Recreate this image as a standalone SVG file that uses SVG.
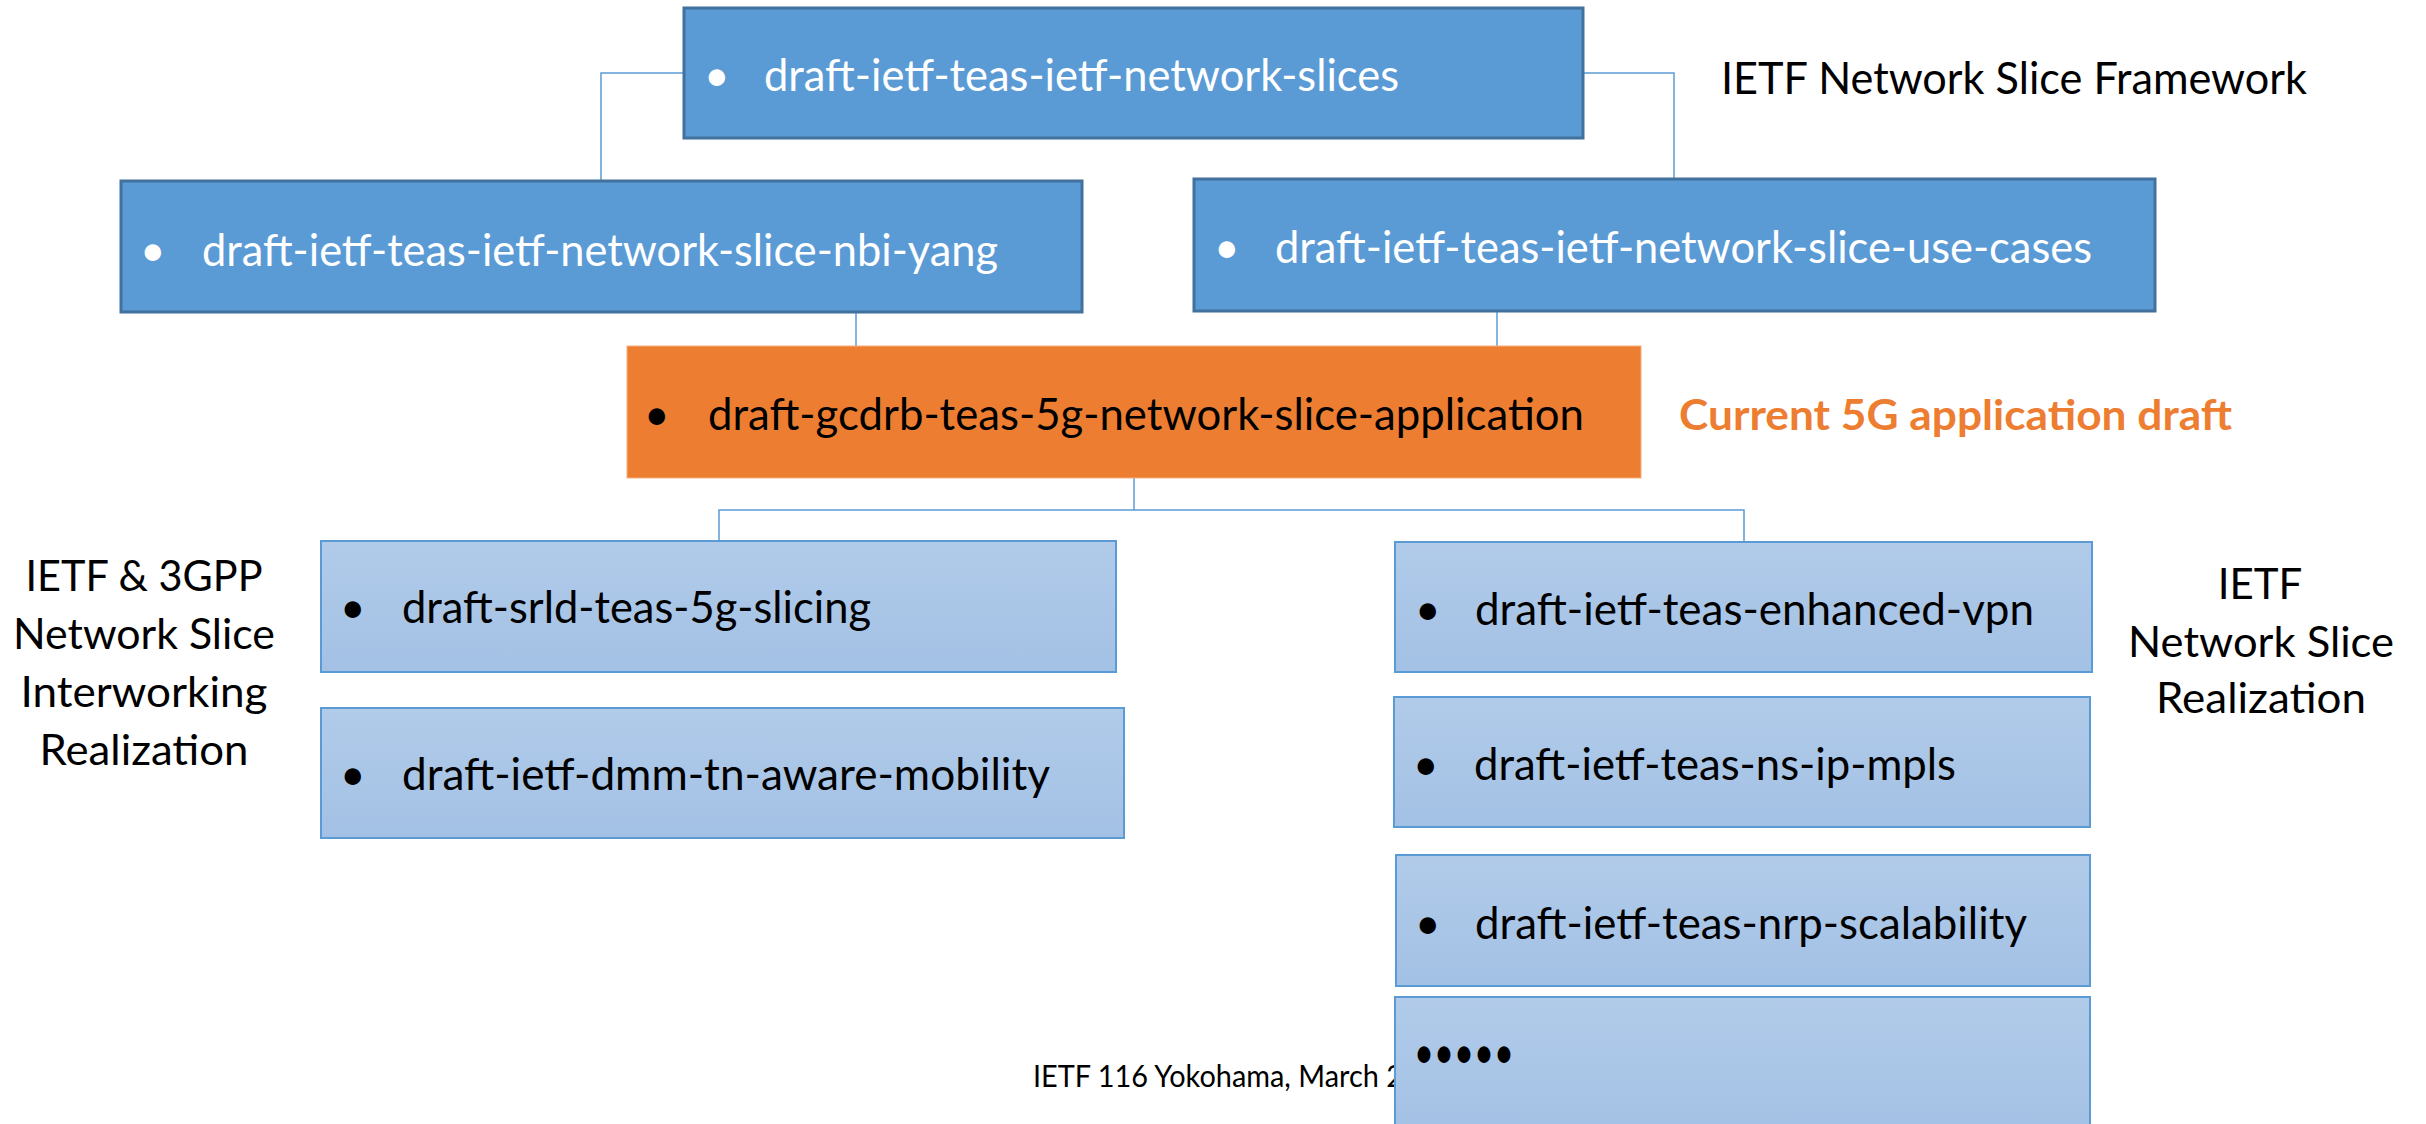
<svg xmlns="http://www.w3.org/2000/svg" width="2426" height="1124" viewBox="0 0 2426 1124">
<defs>
<linearGradient id="lg" x1="0" y1="0" x2="0" y2="1">
<stop offset="0" stop-color="#B1CBE9"/>
<stop offset="1" stop-color="#A3C1E5"/>
</linearGradient>
<style>
.dark{fill:#5B9BD5;stroke:#41719C;stroke-width:3}
.light{fill:url(#lg);stroke:#5B9BD5;stroke-width:2}
.orange{fill:#ED7D31;stroke:#F4B183;stroke-width:1}
.t{font-family:Lato,"Liberation Sans",sans-serif;font-size:44px}
.w{fill:#FFFFFF}
.k{fill:#000000}
.lbl{font-family:Lato,"Liberation Sans",sans-serif;font-size:42px;fill:#000000;text-anchor:middle}
.conn{fill:none;stroke:#5B9BD5;stroke-width:1.5}
</style>
</defs>
<rect width="2426" height="1124" fill="#FFFFFF"/>
<text x="1033" y="1087" font-family="Lato,'Liberation Sans',sans-serif" font-size="31" fill="#000" textLength="370" lengthAdjust="spacingAndGlyphs">IETF 116 Yokohama, March 2</text>
<g id="connectors">
<path class="conn" d="M683,73 H601 V181"/>
<path class="conn" d="M1583,73 H1674 V179"/>
<path class="conn" d="M856,312 V346"/>
<path class="conn" d="M1497,311 V346"/>
<path class="conn" d="M1134,478 V510"/>
<path class="conn" d="M719,541 V510 H1744 V542"/>
</g>
<g id="node-network-slices">
<rect class="dark" x="684" y="8" width="899" height="130"/>
<text class="t w" x="704" y="91">•</text>
<text class="t w" x="764" y="91" textLength="635" lengthAdjust="spacingAndGlyphs">draft-ietf-teas-ietf-network-slices</text>
</g>
<g id="node-nbi-yang">
<rect class="dark" x="121" y="181" width="961" height="131"/>
<text class="t w" x="140" y="266">•</text>
<text class="t w" x="202" y="266" textLength="796" lengthAdjust="spacingAndGlyphs">draft-ietf-teas-ietf-network-slice-nbi-yang</text>
</g>
<g id="node-use-cases">
<rect class="dark" x="1194" y="179" width="961" height="132"/>
<text class="t w" x="1214" y="263">•</text>
<text class="t w" x="1275" y="263" textLength="817" lengthAdjust="spacingAndGlyphs">draft-ietf-teas-ietf-network-slice-use-cases</text>
</g>
<g id="node-5g-app">
<rect class="orange" x="627" y="346" width="1014" height="132"/>
<text class="t k" x="644" y="430">•</text>
<text class="t k" x="708" y="430" textLength="876" lengthAdjust="spacingAndGlyphs">draft-gcdrb-teas-5g-network-slice-application</text>
</g>
<g id="node-srld">
<rect class="light" x="321" y="541" width="795" height="131"/>
<text class="t k" x="340" y="623">•</text>
<text class="t k" x="402" y="623" textLength="469" lengthAdjust="spacingAndGlyphs">draft-srld-teas-5g-slicing</text>
</g>
<g id="node-dmm">
<rect class="light" x="321" y="708" width="803" height="130"/>
<text class="t k" x="340" y="790">•</text>
<text class="t k" x="402" y="790" textLength="648" lengthAdjust="spacingAndGlyphs">draft-ietf-dmm-tn-aware-mobility</text>
</g>
<g id="node-enhanced-vpn">
<rect class="light" x="1395" y="542" width="697" height="130"/>
<text class="t k" x="1415" y="625">•</text>
<text class="t k" x="1475" y="625" textLength="559" lengthAdjust="spacingAndGlyphs">draft-ietf-teas-enhanced-vpn</text>
</g>
<g id="node-ns-ip-mpls">
<rect class="light" x="1394" y="697" width="696" height="130"/>
<text class="t k" x="1413" y="780">•</text>
<text class="t k" x="1474" y="780" textLength="482" lengthAdjust="spacingAndGlyphs">draft-ietf-teas-ns-ip-mpls</text>
</g>
<g id="node-nrp">
<rect class="light" x="1396" y="855" width="694" height="131"/>
<text class="t k" x="1415" y="939">•</text>
<text class="t k" x="1475" y="939" textLength="552" lengthAdjust="spacingAndGlyphs">draft-ietf-teas-nrp-scalability</text>
</g>
<g id="node-more">
<rect class="light" x="1395" y="997" width="695" height="140"/>
<text x="1414" y="1068" font-family="Lato,'Liberation Sans',sans-serif" font-size="44" fill="#000" textLength="100" lengthAdjust="spacingAndGlyphs">•••••</text>
</g>
<g id="labels">
<text x="1721" y="94" font-family="Lato,'Liberation Sans',sans-serif" font-size="45" fill="#000" textLength="586" lengthAdjust="spacingAndGlyphs">IETF Network Slice Framework</text>
<text x="1679" y="430" font-family="Lato,'Liberation Sans',sans-serif" font-size="42" font-weight="bold" fill="#ED7D31" textLength="553" lengthAdjust="spacingAndGlyphs">Current 5G application draft</text>
<text class="lbl" x="144" y="591" textLength="237" lengthAdjust="spacingAndGlyphs">IETF &amp; 3GPP</text>
<text class="lbl" x="144" y="649" textLength="262" lengthAdjust="spacingAndGlyphs">Network Slice</text>
<text class="lbl" x="144" y="707" textLength="247" lengthAdjust="spacingAndGlyphs">Interworking</text>
<text class="lbl" x="144" y="765" textLength="209" lengthAdjust="spacingAndGlyphs">Realization</text>
<text class="lbl" x="2260" y="599">IETF</text>
<text class="lbl" x="2261" y="657" textLength="266" lengthAdjust="spacingAndGlyphs">Network Slice</text>
<text class="lbl" x="2261" y="713" textLength="210" lengthAdjust="spacingAndGlyphs">Realization</text>
</g>
</svg>
